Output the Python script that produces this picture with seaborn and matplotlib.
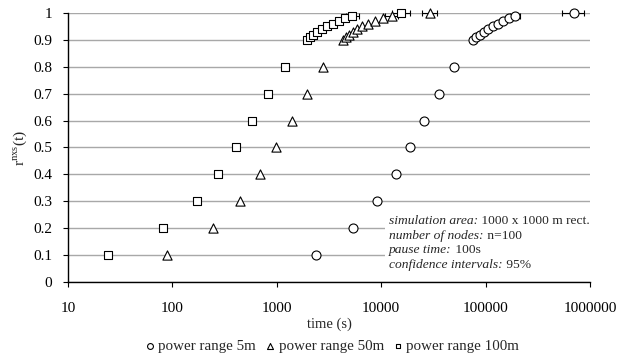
import matplotlib
matplotlib.use("Agg")
import matplotlib.pyplot as plt
from matplotlib.patches import Rectangle
import pandas as pd
import seaborn as sns

# fraction of node pairs reached, r^nxs(t)
levels = [0.1, 0.2, 0.3, 0.4, 0.5, 0.6, 0.7, 0.8, 0.9,
          0.91, 0.92, 0.93, 0.94, 0.95, 0.96, 0.97, 0.98, 0.99, 1.0]

# time (s) at which each level is reached
time_5m = [2370, 5370, 9120, 13900, 18900, 25700, 35800, 49800, 75700,
           80900, 88400, 96500, 105400, 117700, 131500, 146800, 167600, 191400,
           703000]
time_50m = [89, 245, 444, 691, 982, 1400, 1945, 2770, 4300,
            4600, 4920, 5370, 5870, 6550, 7480, 8730, 10400, 12680,
            29300]
time_100m = [24, 81, 172, 273, 406, 578, 824, 1200, 1945,
             2080, 2220, 2430, 2710, 3030, 3450, 3940, 4500, 5250,
             15490]

# 95% confidence bounds, only wide enough to show at the top two levels
ci_levels = [0.99, 1.0]
ci_5m = [(172000, 214000), (540000, 877000)]
ci_50m = [(10900, 14600), (24600, 34200)]
ci_100m = [(4600, 6200), (12680, 18900)]

series = [
    ("power range 5m", time_5m, ci_5m, "o", 42),
    ("power range 50m", time_50m, ci_50m, "^", 44),
    ("power range 100m", time_100m, ci_100m, "s", 30),
]

info_keys = ["simulation area:", "number of nodes:", "pause time:",
             "confidence intervals:"]
info_values = [" 1000 x 1000 m rect.", " n=100", " 100s", " 95%"]

sns.set_theme(style="white")
plt.rcParams["font.family"] = ["Liberation Serif", "DejaVu Serif"]
plt.rcParams["mathtext.fontset"] = "custom"
plt.rcParams["mathtext.rm"] = "Liberation Serif"

fig = plt.figure(figsize=(6.29, 3.56), dpi=100)
ax = fig.add_axes([0.108, 0.208, 0.830, 0.7555])

for name, times, ci, marker, size in series:
    df = pd.DataFrame({"time": times, "level": levels})
    lo = [t - b[0] for t, b in zip(times[-2:], ci)]
    hi = [b[1] - t for t, b in zip(times[-2:], ci)]
    ax.errorbar(times[-2:], ci_levels, xerr=[lo, hi], fmt="none",
                ecolor="black", elinewidth=0.8, capsize=2, capthick=0.8,
                zorder=2, clip_on=False)
    sns.scatterplot(data=df, x="time", y="level", marker=marker, s=size,
                    color="white", edgecolor="black", linewidth=0.8,
                    label=name, ax=ax, zorder=3, clip_on=False)

ax.set_xscale("log")
ax.set_xlim(10, 1e6)
ax.set_ylim(0, 1)
ax.set_xticks([10, 100, 1000, 10000, 100000, 1000000])
ax.set_xticklabels(["10", "100", "1000", "10000", "100000", "1000000"])
ax.xaxis.set_minor_locator(matplotlib.ticker.NullLocator())
ax.set_yticks([0, 0.1, 0.2, 0.3, 0.4, 0.5, 0.6, 0.7, 0.8, 0.9, 1.0])
ax.set_yticklabels(["0", "0.1", "0.2", "0.3", "0.4", "0.5", "0.6", "0.7",
                    "0.8", "0.9", "1"])
ax.yaxis.grid(True, color="#a8a8a8", linewidth=1.0)
ax.set_axisbelow(True)

for side in ["top", "right"]:
    ax.spines[side].set_visible(False)
for side in ["left", "bottom"]:
    ax.spines[side].set_color("black")
    ax.spines[side].set_linewidth(1.0)

ax.tick_params(axis="both", which="major", direction="out", length=3.5,
               width=0.8, color="black", labelsize=11, labelcolor="black")
ax.tick_params(axis="x", pad=11, bottom=True)
ax.tick_params(axis="y", pad=8, left=True)

ax.set_xlabel("time (s)", fontsize=10.5, labelpad=2)
ax.set_ylabel(r"r$^{\rm nxs}$(t)", fontsize=11, labelpad=3)

# white box behind the simulation notes hides the grid lines there
ax.add_patch(Rectangle((0.607, 0.03), 0.393, 0.235, transform=ax.transAxes,
                       facecolor="white", edgecolor="none", zorder=1.5))
for i, (key, value) in enumerate(zip(info_keys, info_values)):
    y = 0.227 - i * 0.0545
    key_text = ax.text(0.615, y, key, transform=ax.transAxes, fontsize=9.7,
                       style="italic", va="center", ha="left", zorder=4)
    ax.annotate(value, xy=(1, 0), xycoords=key_text, fontsize=9.7,
                va="bottom", ha="left", zorder=4)

ax.legend(loc="upper center", bbox_to_anchor=(0.505, -0.215), ncol=3,
          frameon=False, fontsize=10.8, markerscale=0.65, handletextpad=0.15,
          handlelength=0.8, columnspacing=0.55, borderaxespad=0, borderpad=0)

fig.savefig("out.png", dpi=100)
